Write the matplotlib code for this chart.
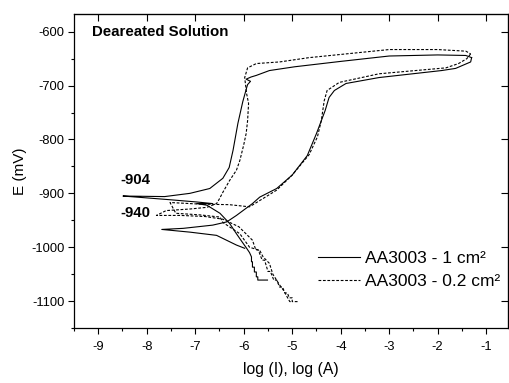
import matplotlib
matplotlib.use("Agg")
import matplotlib.pyplot as plt
from matplotlib.ticker import MultipleLocator

plt.rcParams['font.family'] = ['Liberation Sans', 'DejaVu Sans']
plt.rcParams['axes.unicode_minus'] = False

# ---- data: log(I) and E (mV) ----
# AA3003 - 1 cm2 (solid), forward scan
s1_fwd_logI = [-5.51, -5.71, -5.71, -5.74, -5.74, -5.78, -5.78, -5.82, -5.82, -5.84, -5.84,
               -5.88, -5.94, -6.05, -6.15, -6.29, -6.49, -6.76, -6.97, -6.64, -6.97, -7.50,
               -8.20, -8.49, -7.63, -7.11, -6.70, -6.43, -6.30, -6.22, -6.12, -6.02, -5.94,
               -5.92, -5.86, -5.95, -5.85, -5.74, -5.47, -4.95, -4.00, -3.00, -2.00, -1.42, -1.30]
s1_fwd_E = [-1061, -1061, -1055, -1055, -1046, -1046, -1037, -1037, -1027, -1027, -1018,
            -1010, -1002, -988, -975, -956, -937, -922, -919, -919, -916, -912,
            -907, -905, -906, -900, -891, -872, -852, -820, -770, -730, -704,
            -698, -692, -688, -684, -681, -672, -665, -655, -645, -643, -644, -648]
# AA3003 - 1 cm2 (solid), reverse scan
s1_rev_logI = [-1.30, -1.32, -1.63, -1.92, -3.21, -3.89, -4.13, -4.24, -4.32, -4.42, -4.50,
               -4.69, -5.00, -5.32, -5.67, -5.82, -6.15, -6.35, -6.64, -7.25, -7.69, -7.11,
               -6.56, -6.15, -5.98]
s1_rev_E = [-648, -656, -668, -672, -685, -696, -709, -722, -746, -770, -789,
            -830, -866, -891, -907, -919, -941, -953, -959, -965, -967, -972,
            -978, -996, -1002]
# AA3003 - 0.2 cm2 (dashed), forward scan
s2_fwd_logI = [-4.89, -5.00, -5.00, -5.06, -5.10, -5.15, -5.20, -5.26, -5.32, -5.38, -5.45,
               -5.50, -5.57, -5.62, -5.70, -5.75, -5.82, -6.10, -6.43, -6.80, -7.30, -7.80,
               -7.60, -7.10, -6.76, -6.56, -6.50, -6.43, -6.29, -6.15, -6.08, -6.00, -5.95,
               -5.92, -5.90, -5.94, -5.96, -5.98, -5.92, -5.74, -5.26, -4.65, -3.00, -2.00,
               -1.42, -1.32]
s2_fwd_E = [-1101, -1101, -1094, -1094, -1085, -1085, -1074, -1074, -1061, -1061, -1045,
            -1045, -1024, -1024, -1005, -1005, -987, -962, -948, -943, -941, -941,
            -932, -929, -926, -919, -910, -898, -876, -857, -839, -810, -789,
            -765, -733, -715, -700, -685, -667, -659, -656, -648, -633, -633,
            -636, -641]
# AA3003 - 0.2 cm2 (dashed), reverse scan
s2_rev_logI = [-1.32, -1.40, -1.57, -1.83, -3.21, -4.03, -4.28, -4.34, -4.40, -4.48, -4.65,
               -5.00, -5.32, -5.88, -6.30, -6.90, -7.52, -7.40, -6.90, -6.49, -6.43, -6.08,
               -5.88, -5.67, -5.60, -5.47, -5.40, -5.26, -5.18, -5.10, -5.05, -5.00]
s2_rev_E = [-641, -650, -659, -667, -678, -694, -709, -728, -765, -795, -828,
            -866, -894, -925, -921, -920, -917, -937, -940, -944, -954, -975,
            -1000, -1006, -1018, -1030, -1050, -1070, -1080, -1093, -1101, -1101]

labels = ["AA3003 - 1 cm\u00b2", "AA3003 - 0.2 cm\u00b2"]
xticks = [-9, -8, -7, -6, -5, -4, -3, -2, -1]
yticks = [-600, -700, -800, -900, -1000, -1100]

fig = plt.figure(figsize=(5.10, 3.83), dpi=100)
ax = fig.add_axes([74/510, 55/383, (508-74)/510, (369-55)/383])

ax.plot(s1_fwd_logI, s1_fwd_E, color='black', lw=0.8, ls='-', label=labels[0])
ax.plot(s1_rev_logI, s1_rev_E, color='black', lw=0.8, ls='-')
ax.plot(s2_fwd_logI, s2_fwd_E, color='black', lw=0.8, ls=(0, (2.5, 1.5)), label=labels[1])
ax.plot(s2_rev_logI, s2_rev_E, color='black', lw=0.8, ls=(0, (2.5, 1.5)))

ax.set_xlim(-9.5, -0.55)
ax.set_ylim(-1150, -567)
ax.set_xticks(xticks)
ax.set_yticks(yticks)
ax.xaxis.set_minor_locator(MultipleLocator(0.5))
ax.yaxis.set_minor_locator(MultipleLocator(50))
ax.tick_params(which='major', direction='out', length=4.5, width=0.8, labelsize=9.3, pad=2.5)
ax.tick_params(axis='x', which='major', pad=5)
ax.tick_params(which='minor', direction='out', length=2.3, width=0.8)
for s in ax.spines.values():
    s.set_linewidth(0.9)

top = ax.secondary_xaxis('top')
top.set_xticks(xticks)
top.tick_params(direction='in', length=5, width=0.8, labeltop=False)
right = ax.secondary_yaxis('right')
right.set_yticks(yticks)
right.tick_params(direction='in', length=5, width=0.8, labelright=False)

ax.set_xlabel("log (I), log (A)", fontsize=11.3, labelpad=6)
ax.set_ylabel("E (mV)", fontsize=11, labelpad=3)

ax.text(-9.12, -600, "Deareated Solution", fontsize=10.8, fontweight='bold', va='center', ha='left')
ax.text(-8.24, -876, "-904", fontsize=10.8, fontweight='bold', va='center', ha='center')
ax.text(-8.24, -937, "-940", fontsize=10.8, fontweight='bold', va='center', ha='center')

ax.legend(loc='upper left', bbox_to_anchor=(0.562, 0.245), frameon=False, fontsize=12.5,
          handlelength=2.4, handletextpad=0.3, labelspacing=0.45, borderaxespad=0, borderpad=0)

fig.savefig("out.png", dpi=100)
